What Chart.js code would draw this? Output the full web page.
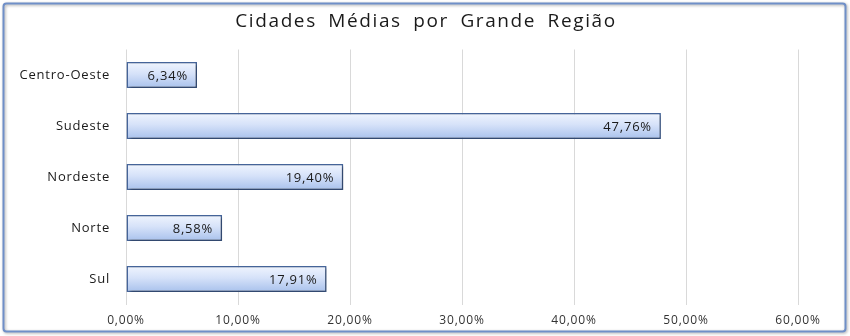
<!DOCTYPE html>
<html>
<head>
<meta charset="utf-8">
<script src="https://cdn.jsdelivr.net/npm/chart.js@4/dist/chart.umd.min.js"></script>
<style>
  html, body { margin: 0; padding: 0; background: #ffffff; }
  #wrap { position: relative; width: 850px; height: 336px; }
</style>
</head>
<body>
<div id="wrap"><canvas id="c" width="850" height="336"></canvas></div>
<script>
const categories = ["Centro-Oeste", "Sudeste", "Nordeste", "Norte", "Sul"];
const shares = [6.34, 47.76, 19.40, 8.58, 17.91];
const tickValues = [0, 10, 20, 30, 40, 50, 60];
const titleText = "Cidades Médias por Grande Região";

const FONT = "'Open Sans', 'Liberation Sans', sans-serif";
const fmt = v => v.toFixed(2).replace('.', ',') + '%';

const framePlugin = {
  id: 'frame',
  beforeDraw(chart) {
    const ctx = chart.ctx;
    ctx.save();
    ctx.fillStyle = '#ffffff';
    ctx.fillRect(0, 0, chart.width, chart.height);
    ctx.shadowColor = 'rgba(0,0,0,0.35)';
    ctx.shadowBlur = 3;
    ctx.shadowOffsetX = 1;
    ctx.shadowOffsetY = 1;
    ctx.strokeStyle = '#6f8fc8';
    ctx.lineWidth = 2;
    ctx.beginPath();
    ctx.roundRect(3.5, 3.5, 842, 328, 3);
    ctx.stroke();
    ctx.restore();
    // title
    ctx.save();
    ctx.font = "19px " + FONT;
    ctx.fillStyle = '#1a1a1a';
    ctx.textAlign = 'center';
    ctx.textBaseline = 'middle';
    if ('letterSpacing' in ctx) ctx.letterSpacing = '1.6px';
    if ('wordSpacing' in ctx) ctx.wordSpacing = '5px';
    ctx.fillText(titleText, 426, 22);
    ctx.restore();
    // slightly stretched text like the reference
    if ('letterSpacing' in ctx) ctx.letterSpacing = '0.8px';
  }
};

const shadowPlugin = {
  id: 'barShadow',
  beforeDatasetsDraw(chart) {
    const ctx = chart.ctx;
    ctx.save();
    ctx.shadowColor = 'rgba(0,0,0,0.35)';
    ctx.shadowBlur = 3;
    ctx.shadowOffsetX = 2;
    ctx.shadowOffsetY = 2;
  },
  afterDatasetsDraw(chart) {
    chart.ctx.restore();
    const ctx = chart.ctx;
    const meta = chart.getDatasetMeta(0);
    ctx.save();
    ctx.font = "13px " + FONT;
    ctx.fillStyle = '#1a1a1a';
    ctx.textAlign = 'right';
    ctx.textBaseline = 'middle';
    meta.data.forEach((el, i) => {
      ctx.fillText(fmt(shares[i]), el.x - 9, el.y + 1);
    });
    ctx.restore();
  }
};

new Chart(document.getElementById('c'), {
  type: 'bar',
  data: {
    labels: categories,
    datasets: [{
      data: shares,
      backgroundColor: (c) => {
        const chart = c.chart;
        const ys = chart.scales && chart.scales.y;
        if (!ys || c.dataIndex === undefined) return '#c5d6f5';
        const y = ys.getPixelForValue(c.dataIndex);
        if (!isFinite(y)) return '#c5d6f5';
        const g = chart.ctx.createLinearGradient(0, y - 13, 0, y + 13);
        g.addColorStop(0, '#f0f5fe');
        g.addColorStop(0.45, '#d6e2f9');
        g.addColorStop(1, '#a8c1ec');
        return g;
      },
      borderColor: '#46669c',
      borderWidth: 1.5,
      borderSkipped: false,
      categoryPercentage: 1,
      barPercentage: 0.51
    }]
  },
  options: {
    indexAxis: 'y',
    responsive: false,
    animation: false,
    devicePixelRatio: 1,
    layout: { padding: { left: 0, right: 52, top: 49.5, bottom: 0 } },
    plugins: {
      legend: { display: false },
      tooltip: { enabled: false },
      title: { display: false }
    },
    scales: {
      x: {
        min: 0, max: 60,
        afterBuildTicks: (s) => { s.ticks = tickValues.map(v => ({ value: v })); },
        afterFit: (s) => { s.height = 31.5; },
        grid: { color: '#d9d9d9', lineWidth: 1, drawTicks: false },
        border: { display: false },
        ticks: {
          padding: 9,
          color: '#333333',
          font: { family: FONT, size: 12 },
          callback: (v) => fmt(v)
        }
      },
      y: {
        afterFit: (s) => { s.width = 126; },
        grid: { display: false, drawTicks: false },
        border: { display: false },
        ticks: {
          padding: 16,
          color: '#1a1a1a',
          font: { family: FONT, size: 13 }
        }
      }
    }
  },
  plugins: [framePlugin, shadowPlugin]
});
</script>
</body>
</html>
